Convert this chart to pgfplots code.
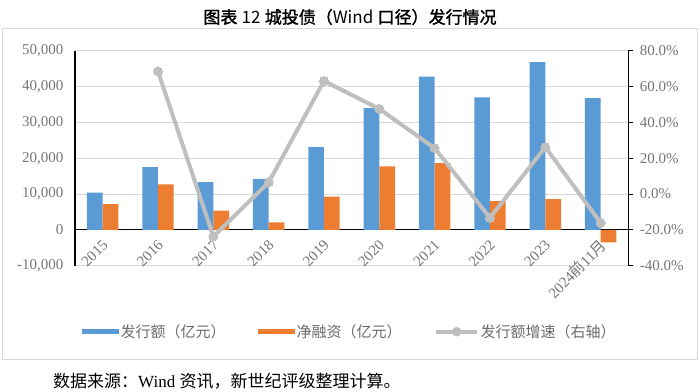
\documentclass[border=0pt]{standalone}
\usepackage{pgfplots}
\pgfplotsset{compat=1.18}
\usepackage{fontspec}
\setmainfont{Liberation Serif}
\newfontfamily\cjk{Noto Sans CJK SC}
\newfontfamily\cjkb[FakeBold=1.6]{Noto Sans CJK SC}
\definecolor{barblue}{HTML}{5B9BD5}
\definecolor{barorange}{HTML}{ED7D31}
\definecolor{lineg}{HTML}{BFBFBF}
\definecolor{gridc}{HTML}{D9D9D9}
\definecolor{tickc}{HTML}{767676}
\definecolor{legc}{HTML}{6A6A6A}
\pgfplotsset{/pgf/number format/assume math mode=true}
\begin{document}
\begin{tikzpicture}
\useasboundingbox (0pt,0pt) rectangle (700pt,391pt);
\draw[gridc, line width=0.8pt] (2pt,32pt) rectangle (697pt,363pt);
\node[font=\fontsize{17}{19}\selectfont] at (350pt,374pt) {{\cjkb 图表} {\cjk 12} {\cjkb 城投债（}{\cjk Wind} {\cjkb 口径）发行情况}};
\node[anchor=west, font=\fontsize{17}{19}\selectfont, inner sep=0pt] at (53pt,10pt) {{\cjk 数据来源：}Wind {\cjk 资讯，新世纪评级整理计算。}};

\begin{axis}[
  at={(75pt,125.3pt)}, anchor=south west, scale only axis,
  width=553.3pt, height=215pt,
  xmin=-0.5, xmax=9.5, ymin=-10000, ymax=50000,
  ytick={-10000,0,10000,20000,30000,40000,50000},
  scaled y ticks=false,
  /pgf/number format/.cd, 1000 sep={,}, /pgfplots/.cd,
  ymajorgrids, grid style={gridc, line width=0.8pt},
  axis x line*=middle, axis y line*=left,
  x axis line style={-, black, line width=1pt},
  y axis line style={-, black, line width=1.2pt},
  xtick={0,...,9},
  xticklabels={2015,2016,2017,2018,2019,2020,2021,2022,2023,2024{\cjk 前}11{\cjk 月}},
  major tick length=0pt,
  xticklabel style={font=\fontsize{15}{15}\selectfont, text=tickc, xshift=5pt, yshift=-10.5pt, rotate=45, anchor=east},
  yticklabel style={font=\fontsize{15}{15}\selectfont, text=tickc, xshift=-8pt},
  legend style={at={(0.4964,-0.307)}, anchor=center, draw=none, fill=none,
    font=\cjk\fontsize{15}{15}\selectfont, text=legc, nodes={inner sep=1.5pt},
    /tikz/every even column/.append style={column sep=31pt}},
  legend columns=-1,
]
\addplot[ybar, bar width=15.7pt, bar shift=-7.85pt, fill=barblue, draw=none,
  legend image code/.code={\fill[barblue] (0pt,-2.5pt) rectangle (37pt,2.5pt);}]
  coordinates {(0,10400)(1,17500)(2,13300)(3,14200)(4,23100)(5,33950)(6,42800)(7,37000)(8,46800)(9,36800)};
\addplot[ybar, bar width=15.7pt, bar shift=7.85pt, fill=barorange, draw=none,
  legend image code/.code={\fill[barorange] (0pt,-2.5pt) rectangle (37pt,2.5pt);}]
  coordinates {(0,7200)(1,12700)(2,5400)(3,2100)(4,9300)(5,17700)(6,18600)(7,8000)(8,8600)(9,-3500)};
\addlegendimage{legend image code/.code={\draw[lineg, line width=4pt] (0pt,0pt) -- (41pt,0pt); \fill[lineg] (20.5pt,0pt) circle (4.5pt);}}
\legend{发行额（亿元）,净融资（亿元）,发行额增速（右轴）}
\end{axis}

\begin{axis}[
  at={(75pt,125.3pt)}, anchor=south west, scale only axis,
  width=553.3pt, height=215pt,
  xmin=-0.5, xmax=9.5, ymin=-40, ymax=80,
  axis x line=none, xtick=\empty,
  axis y line*=right,
  y axis line style={-, black, line width=1.2pt},
  ytick={-40,-20,0,20,40,60,80},
  yticklabel={\pgfmathprintnumber[fixed,fixed zerofill,precision=1]{\tick}\%},
  tick align=outside, major tick length=5pt,
  ytick style={black, line width=1pt},
  yticklabel style={font=\fontsize{15}{15}\selectfont, text=tickc, xshift=3pt},
]
\addplot[lineg, line width=4pt, line join=round, mark=*, mark size=4.5pt,
  mark options={fill=lineg, draw=lineg, line width=0pt}]
  coordinates {(1,68.5)(2,-23.7)(3,6.5)(4,63.1)(5,47.5)(6,25.6)(7,-13.3)(8,26.2)(9,-16.1)};
\end{axis}
\end{tikzpicture}
\end{document}
